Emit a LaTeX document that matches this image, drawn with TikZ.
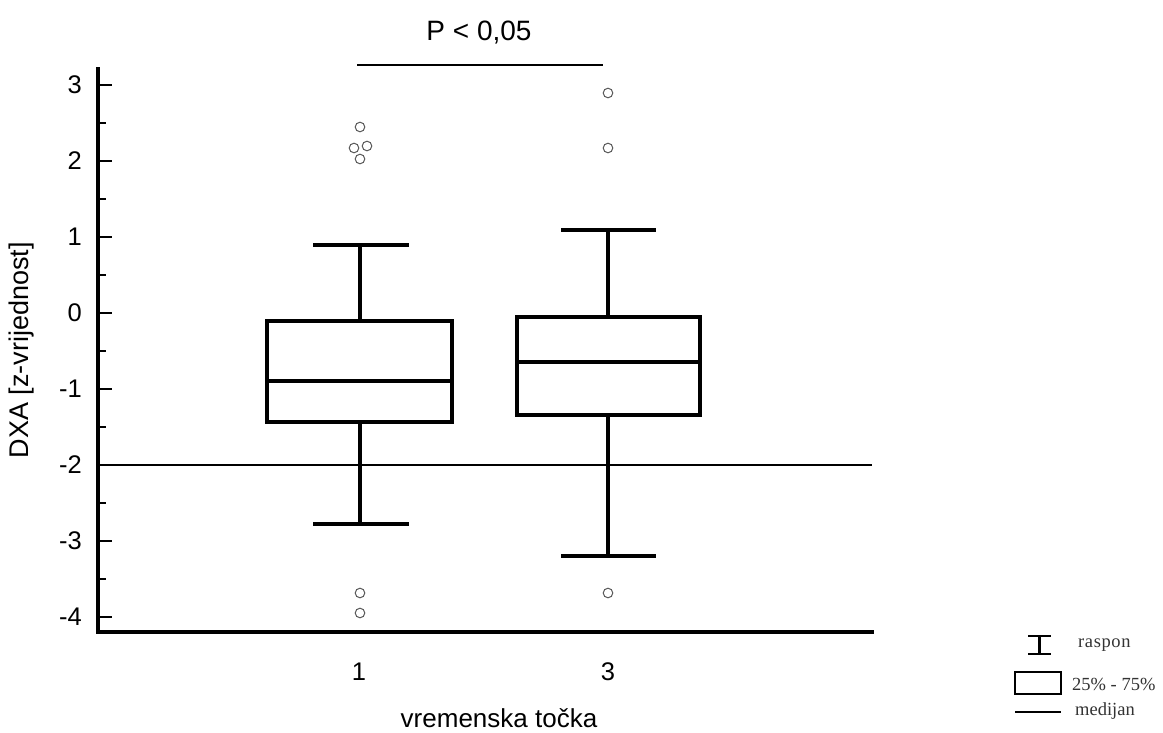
\documentclass[tikz,border=0pt]{standalone}
\usepackage{fontspec}
\setmainfont{Liberation Sans}
\newfontfamily\legfont{Liberation Serif}
\begin{document}
\begin{tikzpicture}[x=1pt,y=-1pt,
  axisline/.style={line width=4pt,line cap=rect},
  boxline/.style={line width=3.2pt,line join=miter},
  thinline/.style={line width=2.2pt},
  outlier/.style={draw=black!65,line width=1pt,fill=none},
  ticklab/.style={font=\fontsize{25.5}{28}\selectfont,inner sep=0pt},
  axlab/.style={font=\fontsize{26}{29}\selectfont,inner sep=0pt},
  leglab/.style={font=\legfont\fontsize{18.5}{20}\selectfont,inner sep=0pt,anchor=west,text=black!80}]
\useasboundingbox (0,0) rectangle (1163,733);
\fill[white] (0,0) rectangle (1163,733);
% axes
\coordinate (ytop) at (98,69);
\coordinate (origin) at (98,632);
\coordinate (xend) at (872,632);
\draw[axisline] (ytop) -- (origin) -- (xend);
% ticks and labels
\foreach \v in {3,2,1,0,-1,-2,-3,-4}{
  \draw[line width=2.4pt] (98,313-76*\v) -- (112,313-76*\v);
  \node[ticklab,anchor=east] (yt\v) at (82,313-76*\v) {\v};
}
\foreach \v in {2.5,1.5,0.5,-0.5,-1.5,-2.5,-3.5}{
  \draw[line width=2.4pt] (98,313-76*\v) -- (106,313-76*\v);
}
% reference line at -2
\coordinate (refL) at (98,465);
\coordinate (refR) at (872,465);
\draw[thinline] (refL) -- (refR);
% box 1
\draw[boxline] (267,321) rectangle (452,422);
\draw[boxline] (267,381) -- (452,381);
\draw[boxline] (360,321) -- (360,245);
\draw[boxline] (313,245) -- (409,245);
\draw[boxline] (360,422) -- (360,524);
\draw[boxline] (313,524) -- (409,524);
% box 2
\draw[boxline] (517,317) rectangle (700,415);
\draw[boxline] (517,362) -- (700,362);
\draw[boxline] (608,317) -- (608,230);
\draw[boxline] (561,230) -- (656,230);
\draw[boxline] (608,415) -- (608,556);
\draw[boxline] (561,556) -- (656,556);
% outliers
\foreach \x/\y in {360/127,354/148,367/146,360/159,360/593,360/613,608/93,608/148,608/593}{
  \draw[outlier] (\x,\y) circle (4.8);
}
% significance
\coordinate (pL) at (357,65);
\coordinate (pR) at (603,65);
\draw[thinline] (pL) -- (pR);
\node[axlab,font=\fontsize{28}{31}\selectfont] (ptext) at (479,33) {P < 0,05};
% x labels
\node[ticklab] (x1) at (359,672) {1};
\node[ticklab] (x3) at (608,672) {3};
\node[axlab] (xlab) at (499,718) {vremenska točka};
\node[axlab,font=\fontsize{27}{30}\selectfont,rotate=90] (ylab) at (22,350) {DXA [z-vrijednost]};
% legend
\draw[line width=2.4pt] (1028,636) -- (1051,636);
\draw[line width=2.4pt] (1028,654) -- (1051,654);
\draw[line width=2.4pt] (1039.5,636) -- (1039.5,654);
\node[leglab] (lg1) at (1078,645) {r\kern0.6pt a\kern0.6pt s\kern0.6pt p\kern0.6pt o\kern0.6pt n};
\draw[line width=2.4pt] (1015,672) rectangle (1061,694);
\node[leglab] (lg2) at (1072,684) {25\% - 75\%};
\draw[line width=2pt] (1015,712) -- (1061,712);
\node[leglab] (lg3) at (1075,711) {medijan};
\end{tikzpicture}
\end{document}
